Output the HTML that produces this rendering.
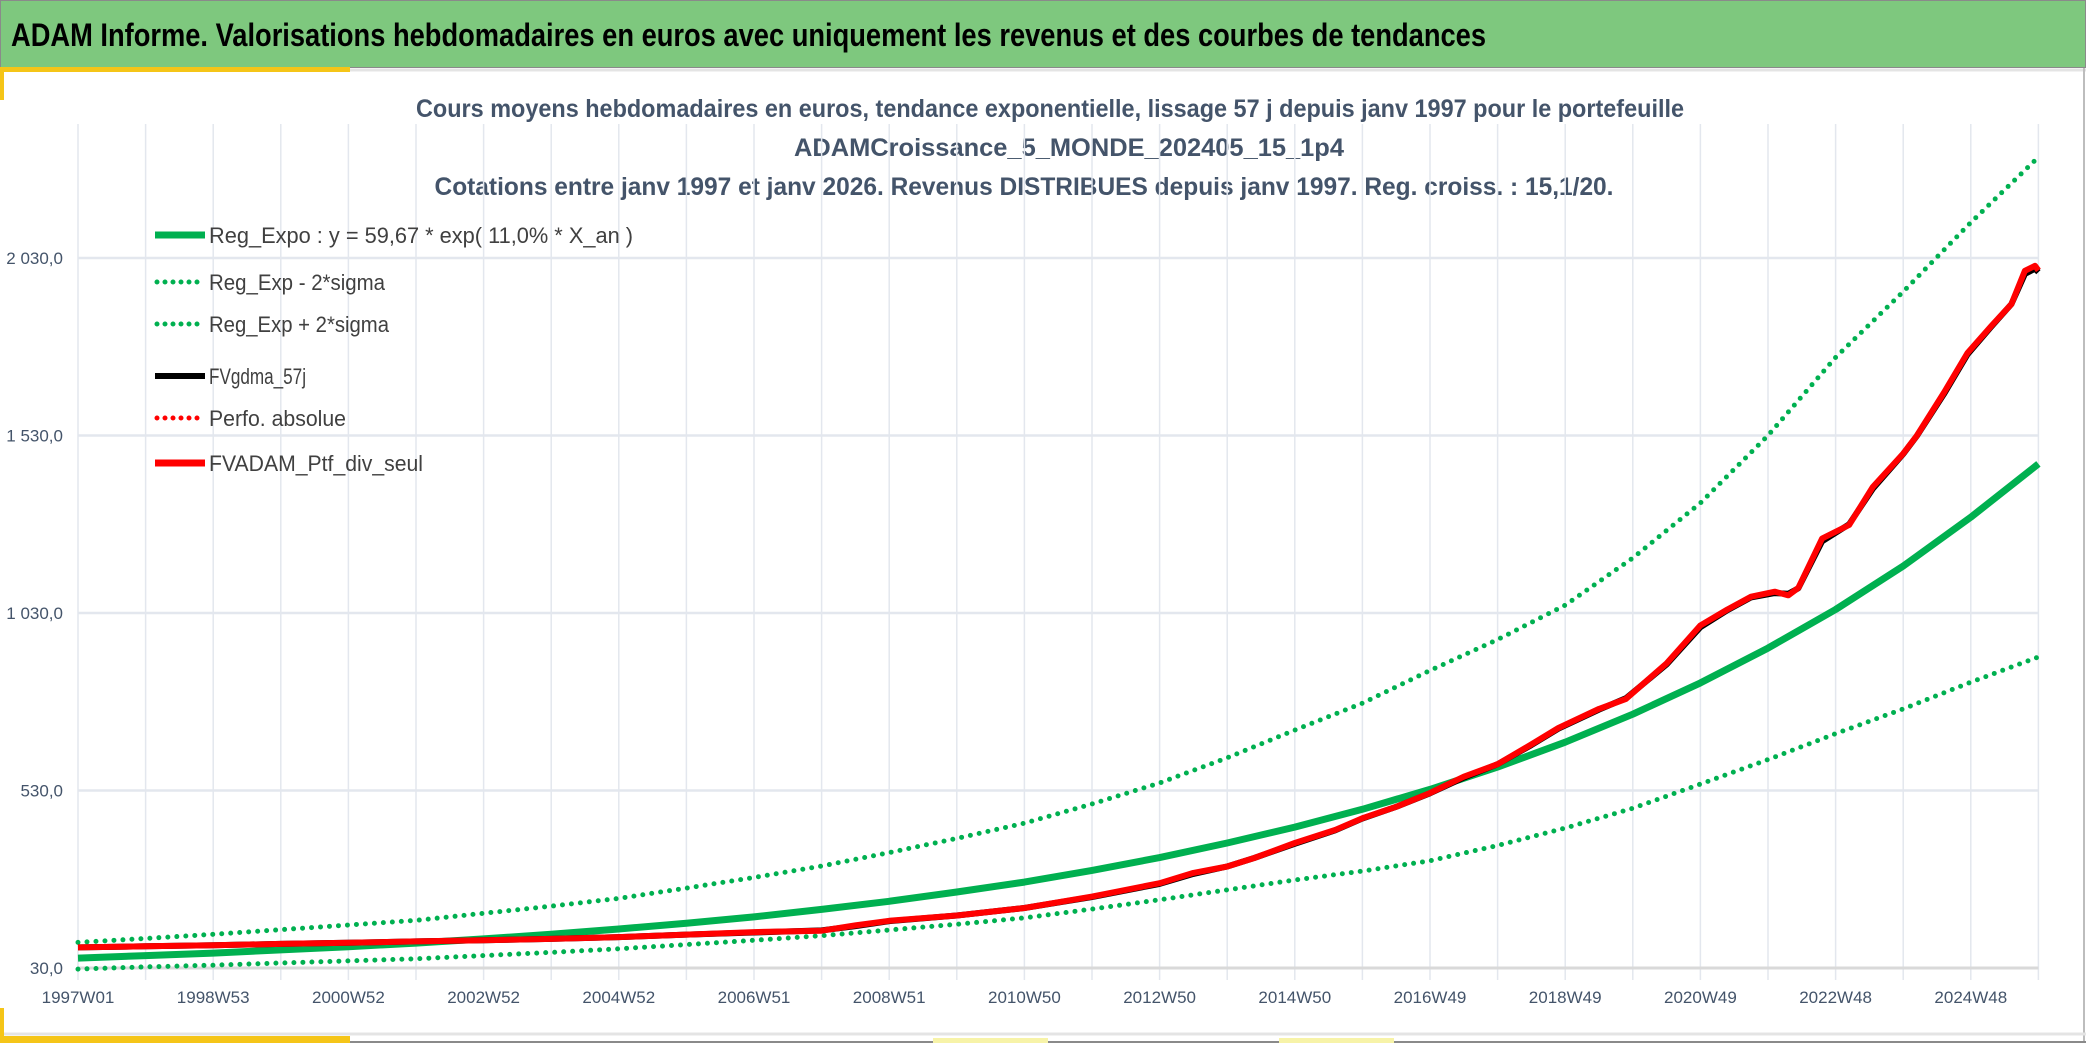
<!DOCTYPE html>
<html><head><meta charset="utf-8"><style>
html,body{margin:0;padding:0;background:#fff;width:2086px;height:1043px;overflow:hidden}
svg{display:block;font-family:"Liberation Sans Narrow","Liberation Sans",sans-serif}
</style></head><body>
<svg id="chart" width="2086" height="1043" viewBox="0 0 2086 1043">
  <rect x="0" y="0" width="2086" height="1043" fill="#fff"/>
  <rect x="0.5" y="0.5" width="2085" height="67" fill="#7ec87e" stroke="#8a8a8a" stroke-width="1"/>
  <text x="11" y="46" font-size="32" font-weight="bold" fill="#000" textLength="1475" lengthAdjust="spacingAndGlyphs">ADAM Informe. Valorisations hebdomadaires en euros avec uniquement les revenus et des courbes de tendances</text>
  <line x1="0" y1="70" x2="2086" y2="70" stroke="#e4e4e4" stroke-width="3"/>
  <line x1="2084" y1="68" x2="2084" y2="1043" stroke="#bdbdbd" stroke-width="2"/>
  <line x1="0" y1="1034" x2="2086" y2="1034" stroke="#e4e4e4" stroke-width="3"/>
  <line x1="0" y1="1042" x2="2086" y2="1042" stroke="#8a8a8a" stroke-width="2"/>
  <rect x="0" y="67" width="350" height="5" fill="#f5c518"/>
  <rect x="0" y="67" width="4" height="33" fill="#f5c518"/>
  <rect x="0" y="1036" width="350" height="7" fill="#f5c518"/>
  <rect x="0" y="1008" width="4" height="35" fill="#f5c518"/>
  <rect x="933" y="1038" width="115" height="5" fill="#f7f3a8"/>
  <rect x="1279" y="1038" width="115" height="5" fill="#f7f3a8"/>

  <g fill="#44546a" font-weight="bold" font-size="25" text-anchor="middle">
    <text x="1050" y="117" textLength="1268" lengthAdjust="spacingAndGlyphs">Cours moyens hebdomadaires en euros, tendance exponentielle, lissage 57 j depuis janv 1997 pour le portefeuille</text>
    <text x="1069" y="156" textLength="550" lengthAdjust="spacingAndGlyphs">ADAMCroissance_5_MONDE_202405_15_1p4</text>
    <text x="1024" y="195" textLength="1179" lengthAdjust="spacingAndGlyphs">Cotations entre janv 1997 et janv 2026. Revenus DISTRIBUES depuis janv 1997. Reg. croiss. : 15,1/20.</text>
  </g>

  <g id="grid"></g>
  <g id="axes"></g>
  <g id="series"></g>

  <g font-size="22" fill="#404040">
    <g>
      <line x1="155" y1="235" x2="205" y2="235" stroke="#00b050" stroke-width="7"/>
      <text x="209" y="243" textLength="424" lengthAdjust="spacingAndGlyphs">Reg_Expo : y = 59,67 * exp( 11,0% *  X_an )</text>
    </g>
    <g>
      <line x1="157" y1="282" x2="205" y2="282" stroke="#00b050" stroke-width="5" stroke-dasharray="0 8" stroke-linecap="round"/>
      <text x="209" y="290" textLength="176" lengthAdjust="spacingAndGlyphs">Reg_Exp - 2*sigma</text>
    </g>
    <g>
      <line x1="157" y1="324" x2="205" y2="324" stroke="#00b050" stroke-width="5" stroke-dasharray="0 8" stroke-linecap="round"/>
      <text x="209" y="332" textLength="180" lengthAdjust="spacingAndGlyphs">Reg_Exp + 2*sigma</text>
    </g>
    <g>
      <line x1="155" y1="376" x2="205" y2="376" stroke="#000" stroke-width="6"/>
      <text x="209" y="384" textLength="97" lengthAdjust="spacingAndGlyphs">FVgdma_57j</text>
    </g>
    <g>
      <line x1="157" y1="418" x2="205" y2="418" stroke="#ff0000" stroke-width="5" stroke-dasharray="0 8" stroke-linecap="round"/>
      <text x="209" y="426" textLength="137" lengthAdjust="spacingAndGlyphs">Perfo. absolue</text>
    </g>
    <g>
      <line x1="155" y1="463" x2="205" y2="463" stroke="#ff0000" stroke-width="7"/>
      <text x="209" y="471" textLength="214" lengthAdjust="spacingAndGlyphs">FVADAM_Ptf_div_seul</text>
    </g>
  </g>
</svg>
<script>
// ---- data (t = years since 1997W01) ----
const trendT = [0,1,2,3,4,5,6,7,8,9,10,11,12,13,14,15,16,17,18,19,20,21,22,23,24,25,26,27,28,29];
const trendValues = [58,65,72,81,90,100,112,125,140,156,174,195,218,244,272,305,341,382,427,477,533,596,666,745,833,931,1040,1162,1300,1450];
const upperValues = [102,113,125,138,151,164,184,204,226,255,285,317,355,395,438,492,551,622,700,776,868,955,1052,1185,1340,1530,1750,1935,2130,2314];
const lowerValues = [27,33,38,44,50,56,65,74,84,96,108,121,137,153,171,196,222,250,278,303,332,375,424,480,548,617,690,760,835,906];
const ptfT = [0,1,2,3,4,5,6,7,8,9,10,11,11.5,12,13,14,15,16,16.5,17,17.4,18,18.6,19,19.5,20,20.5,21,21.5,21.9,22.5,22.9,23.5,24,24.4,24.75,25.1,25.3,25.45,25.8,26.2,26.55,27,27.2,27.6,27.95,28.3,28.6,28.8,28.95,29];
const ptfValues = [88,91,94,98,101,105,108,112,117,124,131,135,150,163,178,199,231,269,298,316,340,382,419,452,484,523,569,604,660,706,760,788,888,995,1040,1076,1090,1080,1101,1240,1278,1385,1479,1529,1650,1762,1838,1900,1994,2008,1995];
const smoothValues = [88,91,94,98,101,105,108,112,117,124,130,136,148,162,178,199,230,267,295,316,340,380,418,451,484,522,566,604,658,704,758,790,885,990,1038,1074,1086,1084,1100,1232,1280,1380,1478,1528,1646,1758,1836,1900,1985,2000,1990];
const yTicks = [30,530,1030,1530,2030];
const yTickLabels = ["30,0","530,0","1 030,0","1 530,0","2 030,0"];
const xTickT = [0,2,4,6,8,10,12,14,16,18,20,22,24,26,28];
const xTickLabels = ["1997W01","1998W53","2000W52","2002W52","2004W52","2006W51","2008W51","2010W50","2012W50","2014W50","2016W49","2018W49","2020W49","2022W48","2024W48"];
const gridYears = [0,1,2,3,4,5,6,7,8,9,10,11,12,13,14,15,16,17,18,19,20,21,22,23,24,25,26,27,28,29];

// ---- scales ----
const X0 = 78, PX_PER_YEAR = 67.6;
const Y0 = 968, PX_PER_UNIT = 0.355, VMIN = 30;
function xs(t){ return X0 + t*PX_PER_YEAR; }
function ys(v){ return Y0 - (v - VMIN)*PX_PER_UNIT; }
const NS = "http://www.w3.org/2000/svg";
function mk(tag, attrs, parent){ const e=document.createElementNS(NS,tag); for(const k in attrs) e.setAttribute(k,attrs[k]); parent.appendChild(e); return e; }

const grid = document.getElementById('grid');
const axes = document.getElementById('axes');
const series = document.getElementById('series');

gridYears.forEach(t=>{
  const l = mk('line',{x1:xs(t),x2:xs(t),y1:124,y2:980,stroke:'#e3e7ee','stroke-width':1.5},grid);
  
  
});
yTicks.forEach((v,i)=>{
  const l = mk('line',{x1:xs(0),x2:xs(29),y1:ys(v),y2:ys(v),stroke:i===0?'#d9d9d9':'#e3e7ee','stroke-width':i===0?3:2.5},grid);
  
  
  const tx = mk('text',{x:63,y:ys(v)+6,'font-size':17,fill:'#44546a','text-anchor':'end'},axes);
  tx.textContent = yTickLabels[i];
  
  
});
xTickT.forEach((t,i)=>{
  const tx = mk('text',{x:xs(t),y:1003,'font-size':17,fill:'#44546a','text-anchor':'middle'},axes);
  tx.textContent = xTickLabels[i];
  
  
});

function pathD(ts, vs){ return ts.map((t,i)=>(i?'L':'M')+xs(t).toFixed(1)+','+ys(vs[i]).toFixed(1)).join(' '); }

const pUp = mk('path',{d:pathD(trendT,upperValues),fill:'none',stroke:'#00b050','stroke-width':5,'stroke-dasharray':'0 9','stroke-linecap':'round'},series);


const pLo = mk('path',{d:pathD(trendT,lowerValues),fill:'none',stroke:'#00b050','stroke-width':5,'stroke-dasharray':'0 9','stroke-linecap':'round'},series);


const pTr = mk('path',{d:pathD(trendT,trendValues),fill:'none',stroke:'#00b050','stroke-width':7,'stroke-linejoin':'round'},series);


const pBk = mk('path',{d:pathD(ptfT,smoothValues),fill:'none',stroke:'#000','stroke-width':6,'stroke-linejoin':'round'},series);


const pRd = mk('path',{d:pathD(ptfT,ptfValues),fill:'none',stroke:'#ff0000','stroke-width':6,'stroke-linejoin':'round'},series);


</script>
</body></html>
